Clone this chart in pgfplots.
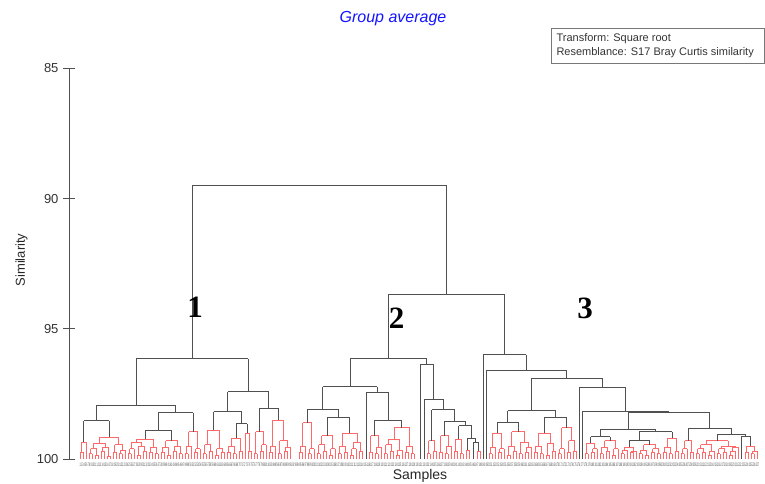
\documentclass[border=0pt]{standalone}
\usepackage{pgfplots}
\pgfplotsset{compat=1.18}
\usepackage{pgfplotstable}
\usepackage{graphicx}
\usepackage{fontspec}
\setmainfont{Liberation Sans}
\newfontfamily\serifbold{Liberation Serif}
\definecolor{treegray}{RGB}{80,80,80}
\definecolor{treered}{RGB}{255,105,105}
\definecolor{titleblue}{RGB}{20,20,255}
\definecolor{boxgray}{RGB}{120,120,120}

% links: left x, left child height, node height, right x, right child height
\pgfplotstableread{
xl hl h xr hr
80 100 99.75 83 100
81.5 99.75 99.35 86 100
89 100 99.8 92 100
95 100 99.85 98 100
90.5 99.8 99.6 96.5 99.85
101 100 99.7 104 100
107 100 99.9 110 100
102.5 99.7 99.55 108.5 99.9
93.5 99.6 99.4 105.5 99.55
113 100 99.75 116 100
119 100 99.8 122 100
120.5 99.8 99.65 125 100
114.5 99.75 99.45 122.75 99.65
99.5 99.4 99.15 118.63 99.45
128 100 99.8 131 100
129.5 99.8 99.6 134 100
137 100 99.85 140 100
143 100 99.7 146 100
138.5 99.85 99.5 144.5 99.7
131.75 99.6 99.35 141.5 99.5
149 100 99.75 152 100
155 100 99.8 158 100
150.5 99.75 99.55 156.5 99.8
136.63 99.35 99.25 153.5 99.55
161 100 99.75 164 100
167 100 99.85 170 100
162.5 99.75 99.55 168.5 99.85
173 100 99.7 176 100
179 100 99.8 182 100
174.5 99.7 99.5 180.5 99.8
165.5 99.55 99.3 177.5 99.5
185 100 99.8 188 100
186.5 99.8 99.5 191 100
194 100 99.75 197 100
195.5 99.75 99.6 200 100
188.75 99.5 98.95 197.75 99.6
203 100 99.8 206 100
209 100 99.7 212 100
204.5 99.8 99.45 210.5 99.7
215 100 99.85 218 100
221 100 99.75 224 100
216.5 99.85 99.6 222.5 99.75
207.5 99.45 98.9 219.5 99.6
227 100 99.75 230 100
233 100 99.8 236 100
228.5 99.75 99.5 234.5 99.8
239 100 99.7 242 100
231.5 99.5 99.2 240.5 99.7
248 100 99.7 251 100
245 100 99.0 249.5 99.7
254 100 99.8 257 100
260 100 99.7 263 100
261.5 99.7 99.45 266 100
255.5 99.8 98.95 263.75 99.45
269 100 99.75 272 100
270.5 99.75 99.5 275 100
278 100 99.8 281 100
284 100 99.7 287 100
285.5 99.7 99.55 290 100
279.5 99.8 99.3 287.75 99.55
272.75 99.5 98.5 283.63 99.3
299 100 99.75 302 100
300.5 99.75 99.5 305 100
308 100 99.8 311 100
309.5 99.8 99.6 314 100
302.75 99.5 98.6 311.75 99.6
317 100 99.8 320 100
323 100 99.7 326 100
318.5 99.8 99.45 324.5 99.7
329 100 99.85 332 100
330.5 99.85 99.6 335 100
321.5 99.45 99.1 332.75 99.6
338 100 99.8 341 100
344 100 99.75 347 100
339.5 99.8 99.5 345.5 99.75
350 100 99.85 353 100
351.5 99.85 99.6 356 100
359 100 99.7 362 100
353.75 99.6 99.35 360.5 99.7
342.5 99.5 99.0 357.13 99.35
369 100 99.75 372 100
375 100 99.8 378 100
376.5 99.8 99.55 381 100
370.5 99.75 99.1 378.75 99.55
384 100 99.8 387 100
390 100 99.7 393 100
385.5 99.8 99.45 391.5 99.7
396 100 99.85 399 100
397.5 99.85 99.65 402 100
388.5 99.45 99.25 399.75 99.65
405 100 99.75 408 100
411 100 99.8 414 100
406.5 99.75 99.5 412.5 99.8
394.13 99.25 98.8 409.5 99.5
427 100 99.8 430 100
433 100 99.7 436 100
428.5 99.8 99.3 434.5 99.7
439 100 99.75 442 100
445 100 99.8 448 100
446.5 99.8 99.5 451 100
440.5 99.75 99.1 448.75 99.5
454 100 99.7 457 100
460 100 99.8 463 100
455.5 99.7 99.25 461.5 99.8
466 100 99.65 469 100
477 100 99.7 480 100
489 100 99.8 492 100
490.5 99.8 99.55 495 100
498 100 99.75 501 100
499.5 99.75 99.6 504 100
492.75 99.55 99.0 501.75 99.6
507 100 99.85 510 100
513 100 99.7 516 100
508.5 99.85 99.5 514.5 99.7
519 100 99.8 522 100
525 100 99.75 528 100
526.5 99.75 99.55 531 100
520.5 99.8 99.35 528.75 99.55
511.5 99.5 98.95 524.63 99.35
534 100 99.75 537 100
540 100 99.8 543 100
535.5 99.75 99.5 541.5 99.8
546 100 99.85 549 100
552 100 99.7 555 100
547.5 99.85 99.4 553.5 99.7
538.5 99.5 99.0 550.5 99.4
558 100 99.8 561 100
559.5 99.8 99.6 564 100
567 100 99.75 570 100
573 100 99.7 576 100
568.5 99.75 99.3 574.5 99.7
561.75 99.6 98.8 571.5 99.3
585 100 99.8 588 100
591 100 99.75 594 100
592.5 99.75 99.6 597 100
586.5 99.8 99.4 594.75 99.6
600 100 99.8 603 100
606 100 99.7 609 100
601.5 99.8 99.55 607.5 99.7
612 100 99.85 615 100
613.5 99.85 99.6 618 100
604.5 99.55 99.3 615.75 99.6
621 100 99.8 624 100
622.5 99.8 99.65 627 100
630 100 99.75 633 100
631.5 99.75 99.7 636 100
624.75 99.65 99.55 633.75 99.7
639 100 99.8 642 100
645 100 99.85 648 100
640.5 99.8 99.65 646.5 99.85
651 100 99.75 654 100
657 100 99.8 660 100
652.5 99.75 99.6 658.5 99.8
643.5 99.65 99.45 655.5 99.6
663 100 99.75 666 100
669 100 99.8 672 100
664.5 99.75 99.55 670.5 99.8
675 100 99.7 678 100
667.5 99.55 99.2 676.5 99.7
681 100 99.8 684 100
682.5 99.8 99.6 687 100
690 100 99.75 693 100
684.75 99.6 99.3 691.5 99.75
696 100 99.8 699 100
702 100 99.75 705 100
697.5 99.8 99.6 703.5 99.75
708 100 99.85 711 100
709.5 99.85 99.7 714 100
700.5 99.6 99.45 711.75 99.7
717 100 99.8 720 100
723 100 99.75 726 100
718.5 99.8 99.6 724.5 99.75
729 100 99.85 732 100
730.5 99.85 99.7 735 100
732.75 99.7 99.55 738 100
721.5 99.6 99.5 735.38 99.55
706.13 99.45 99.3 728.44 99.5
745 100 99.75 748 100
751 100 99.8 754 100
752.5 99.8 99.7 757 100
746.5 99.75 99.5 754.75 99.7
}\redlinks

\pgfplotstableread{
xl hl h xr hr
83.75 99.35 98.53 109.06 99.15
145.06 99.25 98.91 171.5 99.3
158.28 98.91 98.22 193.25 98.95
96.4 98.53 97.95 175.77 98.22
236 99.2 98.64 247.25 99.0
213.5 98.9 98.18 241.63 98.64
259.63 98.95 98.05 278.19 98.5
227.56 98.18 97.41 268.91 98.05
136.09 97.95 96.14 248.23 97.41
327.13 99.1 98.4 349.81 99.0
307.25 98.6 98.08 338.47 98.4
374.63 99.1 98.5 401.81 98.8
366 100 97.44 388.22 98.5
322.86 98.08 97.22 377.11 97.44
473 100 99.37 478.5 99.7
467.5 99.65 99.2 475.75 99.37
458.5 99.25 98.72 471.63 99.2
444.63 99.1 98.55 465.06 98.72
431.5 99.3 98.1 454.85 98.55
424 100 97.7 443.18 98.1
420 100 96.37 433.59 97.7
349.99 97.22 96.15 426.8 96.37
497.25 99.0 98.59 518.06 98.95
544.5 99.0 98.4 566.63 98.8
507.66 98.59 98.15 555.56 98.4
590.63 99.4 99.14 610.13 99.3
629.25 99.55 99.3 649.5 99.45
639.38 99.3 98.95 672 99.2
600.38 99.14 98.86 655.69 98.95
741 100 99.12 750.63 99.5
717.28 99.3 99.04 745.81 99.12
688.13 99.3 98.82 731.55 99.04
628.03 98.86 98.22 709.84 98.82
582 100 98.16 668.93 98.22
579 100 97.25 625.47 98.16
531.61 98.15 96.9 602.23 97.25
486 100 96.61 566.92 96.9
483 100 96 526.46 96.61
388.4 96.15 93.66 504.73 96
192.16 96.14 89.51 446.57 93.66
}\blacklinks

\begin{document}
\begin{tikzpicture}[x=1pt,y=1pt]
\useasboundingbox (0,0) rectangle (765,484);
\begin{axis}[
  at={(69pt,25pt)}, anchor=south west,
  scale only axis, width=696pt, height=390.5pt,
  xmin=69, xmax=765, ymin=85, ymax=100,
  y dir=reverse,
  axis x line=none, axis y line*=left,
  axis line style={draw=treegray, line width=0.8pt},
  ytick={85,90,95,100},
  tick align=center, major tick length=12pt,
  tick style={draw=treegray, line width=0.8pt},
  yticklabel style={font=\fontsize{13}{13}\selectfont, text=black!80, xshift=-1pt},
  /pgf/number format/assume math mode=true,
  clip=false,
]
\addplot[treered, line width=0.7pt, quiver={u=0, v=\thisrow{h}-\thisrow{hl}}] table[x=xl, y=hl] {\redlinks};
\addplot[treered, line width=0.7pt, quiver={u=\thisrow{xr}-\thisrow{xl}, v=0}] table[x=xl, y=h] {\redlinks};
\addplot[treered, line width=0.7pt, quiver={u=0, v=\thisrow{h}-\thisrow{hr}}] table[x=xr, y=hr] {\redlinks};
\addplot[treegray, line width=0.9pt, quiver={u=0, v=\thisrow{h}-\thisrow{hl}}] table[x=xl, y=hl] {\blacklinks};
\addplot[treegray, line width=0.9pt, quiver={u=\thisrow{xr}-\thisrow{xl}, v=0}] table[x=xl, y=h] {\blacklinks};
\addplot[treegray, line width=0.9pt, quiver={u=0, v=\thisrow{h}-\thisrow{hr}}] table[x=xr, y=hr] {\blacklinks};
\end{axis}
% sample labels strip
\node[anchor=north, inner sep=0pt, text=black!75] at (419.5,21) {\resizebox{680pt}{3.5pt}{\foreach \i in {1,...,227}{\i\,}}};
% titles and labels
\node[text=titleblue, font=\fontsize{16}{16}\selectfont\itshape] at (393,465) {Group average};
\node[rotate=90, font=\fontsize{13}{13}\selectfont, text=black!85] at (21.5,224) {Similarity};
\node[font=\fontsize{14}{14}\selectfont, text=black!85] at (420,8) {Samples};
% info box
\draw[boxgray, line width=0.6pt] (551,421) rectangle (764,456);
\node[anchor=west, font=\fontsize{11}{11}\selectfont, text=black!80] at (553,445) {Transform: Square root};
\node[anchor=west, font=\fontsize{11}{11}\selectfont, text=black!80] at (553,431.5) {Resemblance: S17 Bray Curtis similarity};
% cluster numbers
\node[font=\serifbold\bfseries\fontsize{31}{31}\selectfont] at (195,177) {1};
\node[font=\serifbold\bfseries\fontsize{31}{31}\selectfont] at (396.5,166) {2};
\node[font=\serifbold\bfseries\fontsize{31}{31}\selectfont] at (585,176) {3};
\end{tikzpicture}
\end{document}
